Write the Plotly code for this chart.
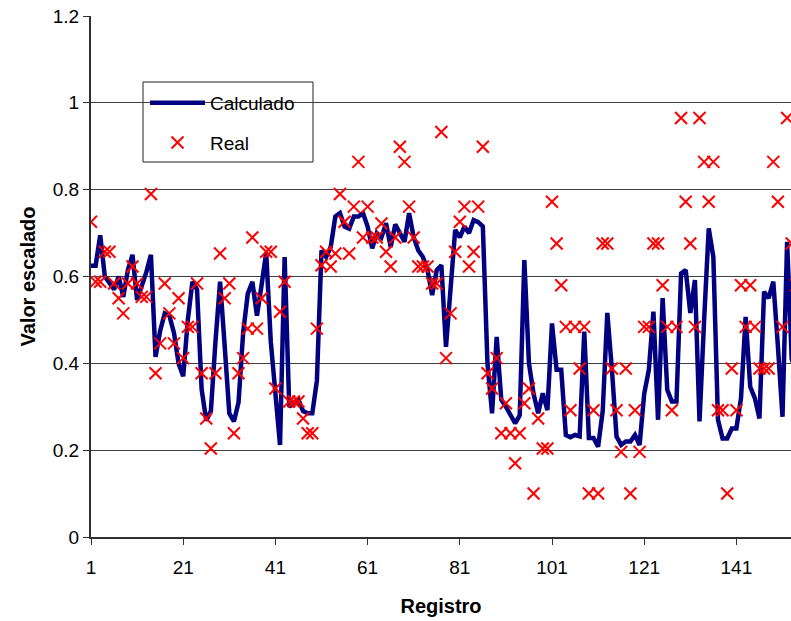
import plotly.graph_objects as go

# Registro index and the two series
registro = list(range(1, 155))

calculado = [
    0.625, 0.625, 0.695, 0.60, 0.585, 0.57, 0.60, 0.553, 0.615, 0.65,
    0.546, 0.577, 0.61, 0.65, 0.415, 0.475, 0.515, 0.51, 0.47, 0.40,
    0.37, 0.50, 0.588, 0.57, 0.34, 0.268, 0.29, 0.45, 0.588, 0.44,
    0.285, 0.266, 0.31, 0.47, 0.56, 0.588, 0.51, 0.58, 0.655, 0.45,
    0.33, 0.212, 0.645, 0.30, 0.31, 0.316, 0.29, 0.285, 0.285, 0.36,
    0.66, 0.645, 0.668, 0.738, 0.746, 0.715, 0.71, 0.738, 0.738, 0.746,
    0.715, 0.665, 0.70, 0.69, 0.723, 0.668, 0.72, 0.70, 0.68, 0.746,
    0.69, 0.66, 0.645, 0.615, 0.557, 0.615, 0.626, 0.438, 0.57, 0.707,
    0.69, 0.715, 0.70, 0.73, 0.725, 0.715, 0.40, 0.285, 0.461, 0.316,
    0.30, 0.28, 0.262, 0.28, 0.638, 0.40, 0.33, 0.285, 0.331, 0.292,
    0.492, 0.385, 0.385, 0.235, 0.23, 0.235, 0.232, 0.473, 0.228, 0.228,
    0.208, 0.29, 0.516, 0.385, 0.231, 0.212, 0.22, 0.22, 0.235, 0.212,
    0.33, 0.385, 0.519, 0.27, 0.55, 0.339, 0.312, 0.312, 0.607, 0.615,
    0.516, 0.592, 0.266, 0.50, 0.711, 0.645, 0.27, 0.227, 0.227, 0.25,
    0.25, 0.32, 0.507, 0.346, 0.32, 0.273, 0.565, 0.55, 0.588, 0.44,
    0.277, 0.68, 0.41, 0.38,
]

real = [
    0.726, 0.588, 0.588, 0.657, 0.657, 0.584, 0.55, 0.515, 0.584, 0.623,
    0.584, 0.553, 0.553, 0.79, 0.377, 0.446, 0.584, 0.515, 0.446, 0.55,
    0.412, 0.484, 0.484, 0.584, 0.377, 0.273, 0.204, 0.377, 0.653, 0.55,
    0.584, 0.239, 0.377, 0.412, 0.48, 0.69, 0.48, 0.55, 0.657, 0.657,
    0.342, 0.519, 0.588, 0.312, 0.312, 0.312, 0.273, 0.239, 0.239, 0.48,
    0.626, 0.657, 0.623, 0.653, 0.79, 0.726, 0.653, 0.761, 0.864, 0.69,
    0.761, 0.69, 0.69, 0.722, 0.657, 0.623, 0.69, 0.899, 0.864, 0.761,
    0.69, 0.623, 0.623, 0.623, 0.584, 0.584, 0.933, 0.412, 0.515, 0.657,
    0.726, 0.761, 0.623, 0.657, 0.761, 0.899, 0.377, 0.342, 0.412, 0.239,
    0.308, 0.239, 0.17, 0.239, 0.308, 0.342, 0.1, 0.273, 0.204, 0.204,
    0.772, 0.676, 0.58, 0.484, 0.292, 0.484, 0.388, 0.484, 0.1, 0.292,
    0.1, 0.676, 0.676, 0.388, 0.292, 0.196, 0.388, 0.1, 0.292, 0.196,
    0.484, 0.484, 0.676, 0.676, 0.58, 0.484, 0.292, 0.484, 0.965, 0.772,
    0.676, 0.484, 0.965, 0.864, 0.772, 0.864, 0.292, 0.292, 0.1, 0.388,
    0.292, 0.58, 0.484, 0.58, 0.484, 0.388, 0.388, 0.388, 0.864, 0.772,
    0.484, 0.965, 0.676, 0.58,
]

x_ticks = [1, 21, 41, 61, 81, 101, 121, 141]
y_ticks = [0, 0.2, 0.4, 0.6, 0.8, 1.0, 1.2]
y_labels = ["0", "0.2", "0.4", "0.6", "0.8", "1", "1.2"]

FONT = "Liberation Sans, Arial, sans-serif"

fig = go.Figure()
fig.add_trace(go.Scatter(
    x=registro, y=calculado, name="Calculado", mode="lines",
    legendgroup="calc",
    line=dict(color="#000080", width=4.5),
))
fig.add_trace(go.Scatter(
    x=registro, y=real, name="Real", mode="markers",
    legendgroup="real",
    marker=dict(symbol="x-thin", size=12, color="#FF0000",
                line=dict(color="#FF0000", width=2)),
))

# legend frame
fig.add_shape(
    type="rect", xref="paper", yref="paper",
    x0=(143 - 91) / 700, x1=(313 - 91) / 700,
    y0=(537 - 162) / 521, y1=(537 - 82) / 521,
    line=dict(color="#222222", width=1), fillcolor="white", layer="below",
)

fig.update_layout(
    width=791, height=621,
    margin=dict(l=91, r=0, t=16, b=84),
    paper_bgcolor="white", plot_bgcolor="white",
    font=dict(family=FONT, size=19, color="black"),
    showlegend=True,
    legend=dict(
        x=(145 - 91) / 700, y=(537 - 84) / 521, xanchor="left", yanchor="top",
        bgcolor="rgba(0,0,0,0)", borderwidth=0,
        font=dict(family=FONT, size=19, color="black"),
        itemwidth=55, tracegroupgap=12,
    ),
    xaxis=dict(
        range=[1, 1 + 700 / 4.61],
        tickmode="array", tickvals=x_ticks, ticktext=[str(v) for v in x_ticks],
        ticks="outside", ticklen=6, tickcolor="#303030", tickwidth=1,
        ticklabelstandoff=6,
        showline=True, linecolor="#303030", linewidth=2,
        showgrid=False, zeroline=False,
        title=dict(text="<b>Registro</b>", font=dict(family=FONT, size=20), standoff=22),
    ),
    yaxis=dict(
        range=[0, 1.2],
        tickmode="array", tickvals=y_ticks, ticktext=y_labels,
        ticks="outside", ticklen=6, tickcolor="#303030", tickwidth=1,
        showline=True, linecolor="#303030", linewidth=2,
        showgrid=True, gridcolor="#404040", gridwidth=1, zeroline=False,
        title=dict(text="<b>Valor escalado</b>", font=dict(family=FONT, size=20), standoff=12),
    ),
)

fig.write_html("out.html")
